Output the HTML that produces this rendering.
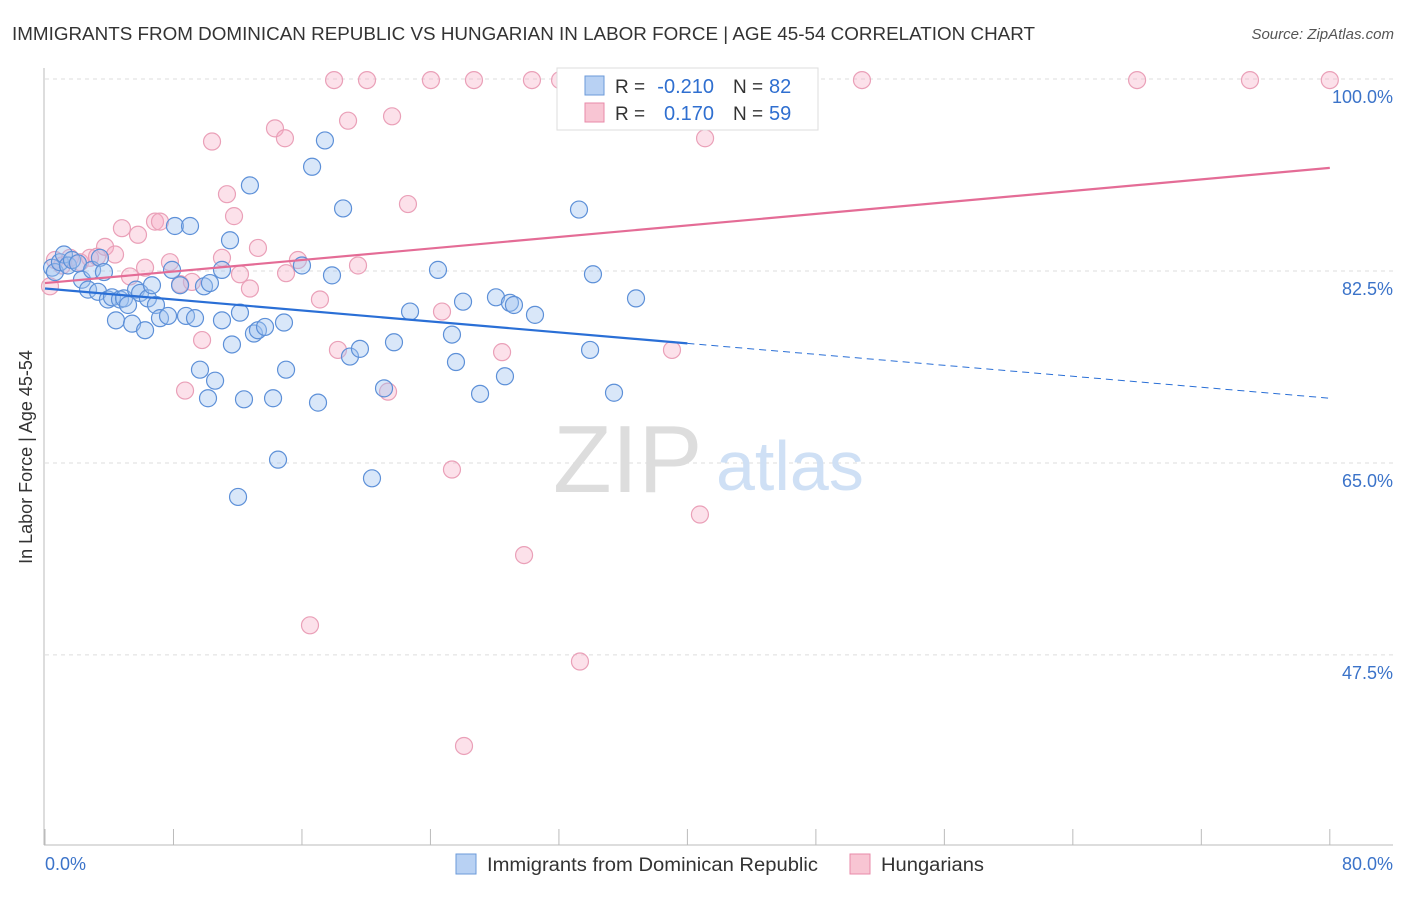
<!DOCTYPE html>
<html><head><meta charset="utf-8"><style>
body{margin:0;background:#fff;font-family:"Liberation Sans",sans-serif;}
svg text{font-family:"Liberation Sans",sans-serif;}
</style></head><body>
<svg width="1406" height="892" xmlns="http://www.w3.org/2000/svg">
<text x="12" y="40" font-size="18" fill="#333" textLength="1023" lengthAdjust="spacingAndGlyphs">IMMIGRANTS FROM DOMINICAN REPUBLIC VS HUNGARIAN IN LABOR FORCE | AGE 45-54 CORRELATION CHART</text>
<text x="1394" y="39" font-size="15" fill="#555" font-style="italic" text-anchor="end">Source: ZipAtlas.com</text>
<g id="grid"></g>
<g>
<text x="553" y="492" font-size="96" fill="#ddd" font-family="Liberation Serif">ZIP</text>
<text x="716" y="490" font-size="70" fill="#cfe0f5">atlas</text>
</g>
<g id="axes"></g>
<g id="pink"></g>
<g id="blue"></g>
<g id="trends"></g>
<text x="32" y="457" font-size="18" fill="#333" text-anchor="middle" transform="rotate(-90 32 457)">In Labor Force | Age 45-54</text>
<g>
<rect x="557" y="68" width="261" height="62" fill="#fff" stroke="#ddd"/>
<rect x="585" y="76" width="19" height="19" fill="#b8d1f3" stroke="#6b9ad9"/>
<rect x="585" y="103" width="19" height="19" fill="#f8c5d3" stroke="#e88aa8"/>
<text x="615" y="93" font-size="19" fill="#333">R =</text>
<text x="714" y="93" font-size="20" fill="#2f6fd0" text-anchor="end">-0.210</text>
<text x="733" y="93" font-size="19" fill="#333">N =</text>
<text x="769" y="93" font-size="20" fill="#2f6fd0">82</text>
<text x="615" y="120" font-size="19" fill="#333">R =</text>
<text x="714" y="120" font-size="20" fill="#2f6fd0" text-anchor="end">0.170</text>
<text x="733" y="120" font-size="19" fill="#333">N =</text>
<text x="769" y="120" font-size="20" fill="#2f6fd0">59</text>
</g>
<g>
<rect x="456" y="854" width="20" height="20" fill="#b8d1f3" stroke="#6b9ad9"/>
<text x="487" y="871" font-size="19" fill="#333" textLength="331" lengthAdjust="spacingAndGlyphs">Immigrants from Dominican Republic</text>
<rect x="850" y="854" width="20" height="20" fill="#f8c5d3" stroke="#e88aa8"/>
<text x="881" y="871" font-size="19" fill="#333" textLength="103" lengthAdjust="spacingAndGlyphs">Hungarians</text>
</g>
</svg>
<script>
const yTicks=[100,82.5,65,47.5];
const yTickLabels=["100.0%","82.5%","65.0%","47.5%"];
const xLabels=["0.0%","80.0%"];
const blueX=[0.44,0.62,0.93,1.18,1.43,1.68,2.05,2.30,2.68,2.93,3.30,3.42,3.67,3.92,4.17,4.42,4.67,4.92,5.17,5.42,5.67,5.92,6.23,6.41,6.66,6.91,7.16,7.66,7.91,8.09,8.41,8.78,9.03,9.34,9.65,9.90,10.15,10.27,10.59,11.02,11.02,11.52,11.64,12.02,12.14,12.39,12.76,13.01,13.26,13.70,14.20,14.51,14.88,15.01,16.00,16.63,17.00,17.43,17.87,18.56,18.99,19.61,20.36,21.11,21.73,22.73,24.47,25.34,25.59,26.03,27.09,28.08,28.64,28.95,29.20,30.51,33.25,33.94,34.12,35.43,36.80];
const blueY=[82.8,82.4,83.3,84.0,83.0,83.5,83.2,81.7,80.8,82.6,80.6,83.7,82.4,79.9,80.1,78.0,79.9,80.0,79.4,77.7,80.8,80.5,77.1,80.0,81.2,79.4,78.2,78.4,82.6,86.6,81.2,78.4,86.6,78.2,73.5,81.1,70.9,81.4,72.5,78.0,82.6,85.3,75.8,61.9,78.7,70.8,90.3,76.8,77.1,77.4,70.9,65.3,77.8,73.5,83.0,92.0,70.5,94.4,82.1,88.2,74.7,75.4,63.6,71.8,76.0,78.8,82.6,76.7,74.2,79.7,71.3,80.1,72.9,79.6,79.4,78.5,88.1,75.3,82.2,71.4,80.0];
const pinkX=[0.31,0.62,1.06,1.56,2.18,2.80,3.24,3.74,4.36,4.79,5.29,5.79,6.23,6.85,7.16,7.78,8.41,8.72,9.15,9.78,10.40,11.02,11.33,11.77,12.14,12.76,13.26,14.32,14.94,15.01,15.75,16.50,17.12,18.00,18.24,18.87,19.49,20.05,21.36,21.61,22.60,24.03,24.72,25.34,26.09,26.71,28.46,29.83,30.32,32.07,33.31,39.04,40.78,41.10,50.87,68.0,75.03,80.0];
const pinkY=[81.1,83.5,83.0,83.7,83.3,83.7,83.8,84.7,84.0,86.4,82.0,85.8,82.8,87.0,87.0,83.3,81.3,71.6,81.5,76.2,94.3,83.7,89.5,87.5,82.2,80.9,84.6,95.5,94.6,82.3,83.5,50.2,79.9,99.9,75.3,96.2,83.0,99.9,71.5,96.6,88.6,99.9,78.8,64.4,39.2,99.9,75.1,56.6,99.9,99.9,46.9,75.3,60.3,94.6,99.9,99.9,99.9,99.9];
const blueTrend=[80.9,70.9];
const pinkTrend=[81.4,91.9];
const NS="http://www.w3.org/2000/svg";
const X=v=>45+v*16.06;
const Y=v=>79+(100-v)*10.97;
function mk(parent,tag,attrs){const e=document.createElementNS(NS,tag);for(const k in attrs)e.setAttribute(k,attrs[k]);document.getElementById(parent).appendChild(e);return e;}
yTicks.forEach((t,i)=>{
 const l=mk('grid','line',{x1:45,x2:1393,y1:Y(t),y2:Y(t),stroke:'#ddd','stroke-dasharray':'4,4'});
 
 
 const tx=mk('grid','text',{x:1393,y:Y(t)+24,'font-size':18,fill:'#3b73c9','text-anchor':'end'});
 tx.textContent=yTickLabels[i];
 
 
});
let a=mk('axes','line',{x1:44,x2:44,y1:68,y2:845,stroke:'#bbb'});


a=mk('axes','line',{x1:44,x2:1393,y1:845,y2:845,stroke:'#bbb'});


for(let i=0;i<=10;i++){
 const t=mk('axes','line',{x1:X(i*8),x2:X(i*8),y1:829,y2:845,stroke:'#bbb'});
 
 
}
let xl=mk('axes','text',{x:45,y:870,'font-size':18,fill:'#3b73c9'});xl.textContent=xLabels[0];


xl=mk('axes','text',{x:1393,y:870,'font-size':18,fill:'#3b73c9','text-anchor':'end'});xl.textContent=xLabels[1];


pinkX.forEach((v,i)=>{
 const c=mk('pink','circle',{cx:X(v),cy:Y(pinkY[i]),r:8.5,fill:'rgba(245,170,195,0.35)',stroke:'#eaa0b8','stroke-width':1.2});
 
 
});
blueX.forEach((v,i)=>{
 const c=mk('blue','circle',{cx:X(v),cy:Y(blueY[i]),r:8.5,fill:'rgba(160,195,240,0.4)',stroke:'#5d90d8','stroke-width':1.2});
 
 
});
const bAt=x=>blueTrend[0]+(blueTrend[1]-blueTrend[0])*x/80;
let t=mk('trends','line',{x1:X(0),y1:Y(bAt(0)),x2:X(40),y2:Y(bAt(40)),stroke:'#2a6fd6','stroke-width':2.2});


t=mk('trends','line',{x1:X(40),y1:Y(bAt(40)),x2:X(80),y2:Y(bAt(80)),stroke:'#2a6fd6','stroke-width':1,'stroke-dasharray':'7,5'});


t=mk('trends','line',{x1:X(0),y1:Y(pinkTrend[0]),x2:X(80),y2:Y(pinkTrend[1]),stroke:'#e46c96','stroke-width':2.2});


</script>
</body></html>
